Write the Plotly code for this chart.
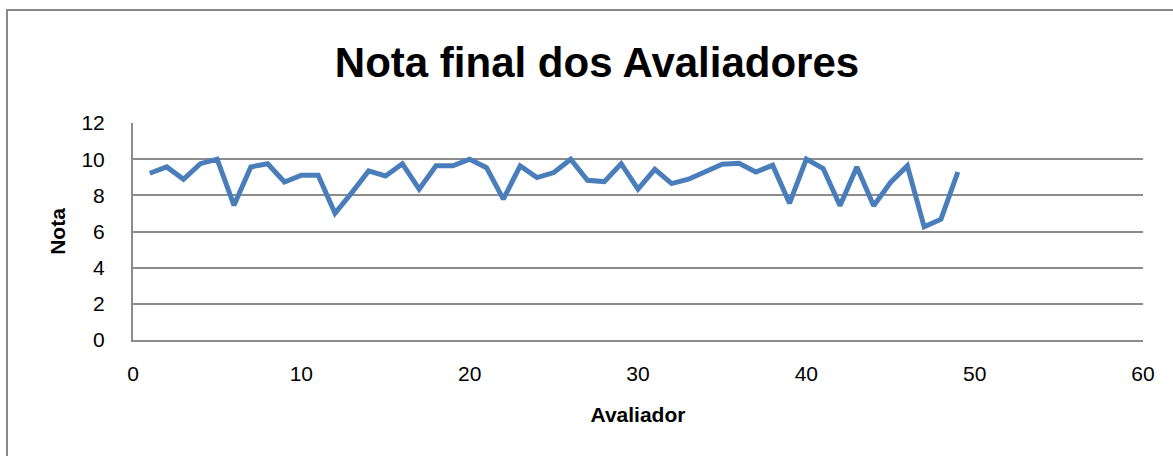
import plotly.graph_objects as go

avaliador = list(range(1, 50))
nota = [9.22, 9.57, 8.89, 9.75, 10.0, 7.45, 9.57, 9.75, 8.74, 9.11,
        9.11, 7.01, 8.15, 9.35, 9.07, 9.75, 8.34, 9.63, 9.63, 10.0,
        9.53, 7.79, 9.63, 8.98, 9.26, 10.0, 8.83, 8.76, 9.75, 8.34,
        9.44, 8.65, 8.89, 9.29, 9.72, 9.77, 9.29, 9.66, 7.56, 10.0,
        9.48, 7.42, 9.57, 7.42, 8.71, 9.63, 6.26, 6.68, 9.29]

title_text = "Nota final dos Avaliadores"
x_title = "Avaliador"
y_title = "Nota"
x_ticks = [0, 10, 20, 30, 40, 50, 60]
y_ticks = [0, 2, 4, 6, 8, 10, 12]

FONT = "Liberation Sans"
W, H = 1173, 456
L, R, T, B = 133, 30, 123, 116

fig = go.Figure()
fig.add_trace(go.Scatter(
    x=avaliador, y=nota, mode="lines",
    line=dict(color="#4a7ebb", width=5, shape="linear"),
    hoverinfo="x+y", showlegend=False,
))

pw = W - L - R
ph = H - T - B
# chart-area border (Excel style) in paper coords
bx0 = (7 - L) / pw
by1 = (H - B - 10) / ph
fig.add_shape(type="rect", xref="paper", yref="paper",
              x0=bx0, x1=2.0, y0=-2.0, y1=by1,
              line=dict(color="#898989", width=2), fillcolor="rgba(0,0,0,0)",
              layer="below")

fig.update_layout(
    width=W, height=H,
    margin=dict(l=L, r=R, t=T, b=B),
    paper_bgcolor="white", plot_bgcolor="white",
    font=dict(family=FONT, color="black", size=21),
    title=dict(text="<b>" + title_text + "</b>", font=dict(size=42, family=FONT, color="black"),
               x=597 / W, xanchor="center", xref="container",
               y=1 - 62 / H, yanchor="middle", yref="container"),
    xaxis=dict(range=[0, 60], tickvals=x_ticks, ticktext=[str(v) for v in x_ticks],
               showgrid=False, zeroline=False, showline=True, linecolor="#8c8c8c", linewidth=2,
               ticks="", ticklabelstandoff=14,
               tickfont=dict(size=21, family=FONT),
               title=dict(text="<b>" + x_title + "</b>", font=dict(size=21, family=FONT), standoff=23)),
    yaxis=dict(range=[0, 12], tickvals=y_ticks, ticktext=[str(v) for v in y_ticks],
               showgrid=True, gridcolor="#8c8c8c", gridwidth=2, zeroline=False,
               showline=True, linecolor="#8c8c8c", linewidth=2,
               ticks="", ticklabelstandoff=22,
               tickfont=dict(size=21, family=FONT),
               title=dict(text="<b>" + y_title + "</b>", font=dict(size=21, family=FONT), standoff=10)),
)

fig.write_html("out.html", config={"displayModeBar": False},
               post_script="document.body.style.margin='0';")
